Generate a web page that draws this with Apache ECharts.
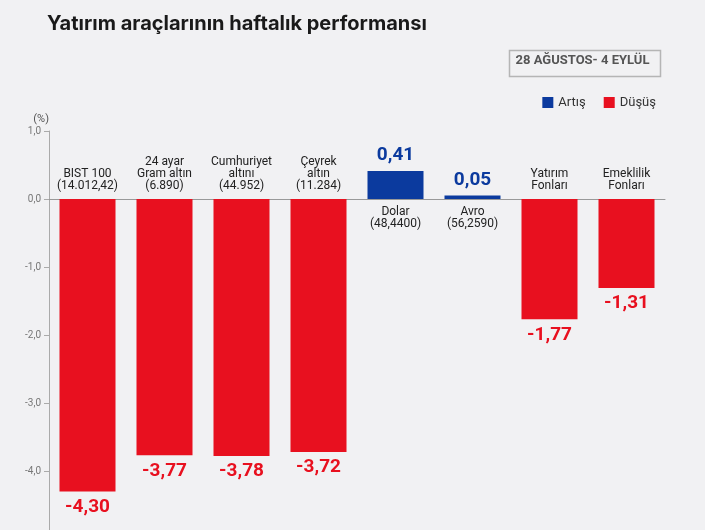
<!DOCTYPE html>
<html><head><meta charset="utf-8">
<script src="https://cdn.jsdelivr.net/npm/echarts@6/dist/echarts.min.js"></script>
<style>html,body{margin:0;background:#f1f1f3}#main{width:705px;height:530px}</style>
</head><body><div id="main"></div>
<script>
const categories = ['BIST 100\n(14.012,42)', '24 ayar\nGram altın\n(6.890)', 'Cumhuriyet\naltını\n(44.952)', 'Çeyrek\naltın\n(11.284)', 'Dolar\n(48,4400)', 'Avro\n(56,2590)', 'Yatırım\nFonları', 'Emeklilik\nFonları'];
const changes = [-4.30, -3.77, -3.78, -3.72, 0.41, 0.05, -1.77, -1.31];
const yTicks = [1, 0, -1, -2, -3, -4];

const RED = '#e8101f', BLUE = '#0b3a9e';
const fmt = v => v.toFixed(2).replace('.', ',');

const chart = echarts.init(document.getElementById('main'));
chart.setOption({
  backgroundColor: '#f1f1f3',
  textStyle: { fontFamily: 'Roboto' },
  title: {
    text: 'Yatırım araçlarının haftalık performansı', left: 42, top: 9,
    textStyle: { fontFamily: 'Inter', fontSize: 20, fontWeight: 'bold', color: '#1a1a1a' }
  },
  graphic: [
    { type: 'rect', left: 507, top: 48, shape: { width: 151, height: 26 },
      style: { fill: 'none', stroke: '#b5b5b5', lineWidth: 1.5 } },
    { type: 'text', x: 582.5, y: 61,
      style: { text: '28 AĞUSTOS- 4 EYLÜL', fontSize: 13, fontWeight: 'bold', fill: '#555',
        fontFamily: 'Roboto', align: 'center', verticalAlign: 'middle' } }
  ],
  legend: {
    right: 44, top: 91, itemWidth: 11, itemHeight: 11, itemGap: 18,
    icon: 'rect', textStyle: { fontSize: 13, color: '#333' },
    data: ['Artış', 'Düşüş']
  },
  grid: { left: 49, width: 616, top: 131, height: 408, outerBoundsMode: 'none', containLabel: false },
  xAxis: {
    type: 'category', data: categories,
    axisLine: { lineStyle: { color: '#999' } },
    axisTick: { inside: true, length: 8, lineStyle: { color: '#bbb' } },
    axisLabel: { show: false }
  },
  yAxis: {
    type: 'value', min: -5, max: 1, interval: 1,
    name: '(%)', nameLocation: 'end', nameGap: 6,
    nameTextStyle: { color: '#555', fontSize: 11, align: 'right' },
    axisLine: { show: true, lineStyle: { color: '#aaa' } },
    axisTick: { show: true, length: 5, lineStyle: { color: '#aaa' } },
    splitLine: { show: false },
    axisLabel: {
      color: '#777', fontSize: 10,
      formatter: v => yTicks.includes(v) ? v.toFixed(1).replace('.', ',') : ''
    }
  },
  series: [
    { name: 'Artış', type: 'bar', data: [], itemStyle: { color: BLUE } },
    { name: 'Düşüş', type: 'bar', data: [], itemStyle: { color: RED } },
    {
      type: 'bar', barWidth: 56, barGap: '-100%',
      data: changes.map(v => ({
        value: v,
        itemStyle: { color: v >= 0 ? BLUE : RED },
        label: {
          show: true, position: v >= 0 ? 'top' : 'bottom', distance: 6,
          formatter: () => fmt(v), fontSize: 19, fontWeight: 'bold',
          color: v >= 0 ? BLUE : RED
        }
      }))
    },
    {
      type: 'bar', barWidth: 56, barGap: '-100%', silent: true,
      itemStyle: { color: 'rgba(0,0,0,0)' },
      data: changes.map((v, i) => ({
        value: v,
        label: {
          show: true, position: v >= 0 ? 'bottom' : 'top', distance: 7,
          formatter: () => categories[i], fontSize: 12, lineHeight: 12, color: '#222'
        }
      }))
    }
  ]
});
</script></body></html>
